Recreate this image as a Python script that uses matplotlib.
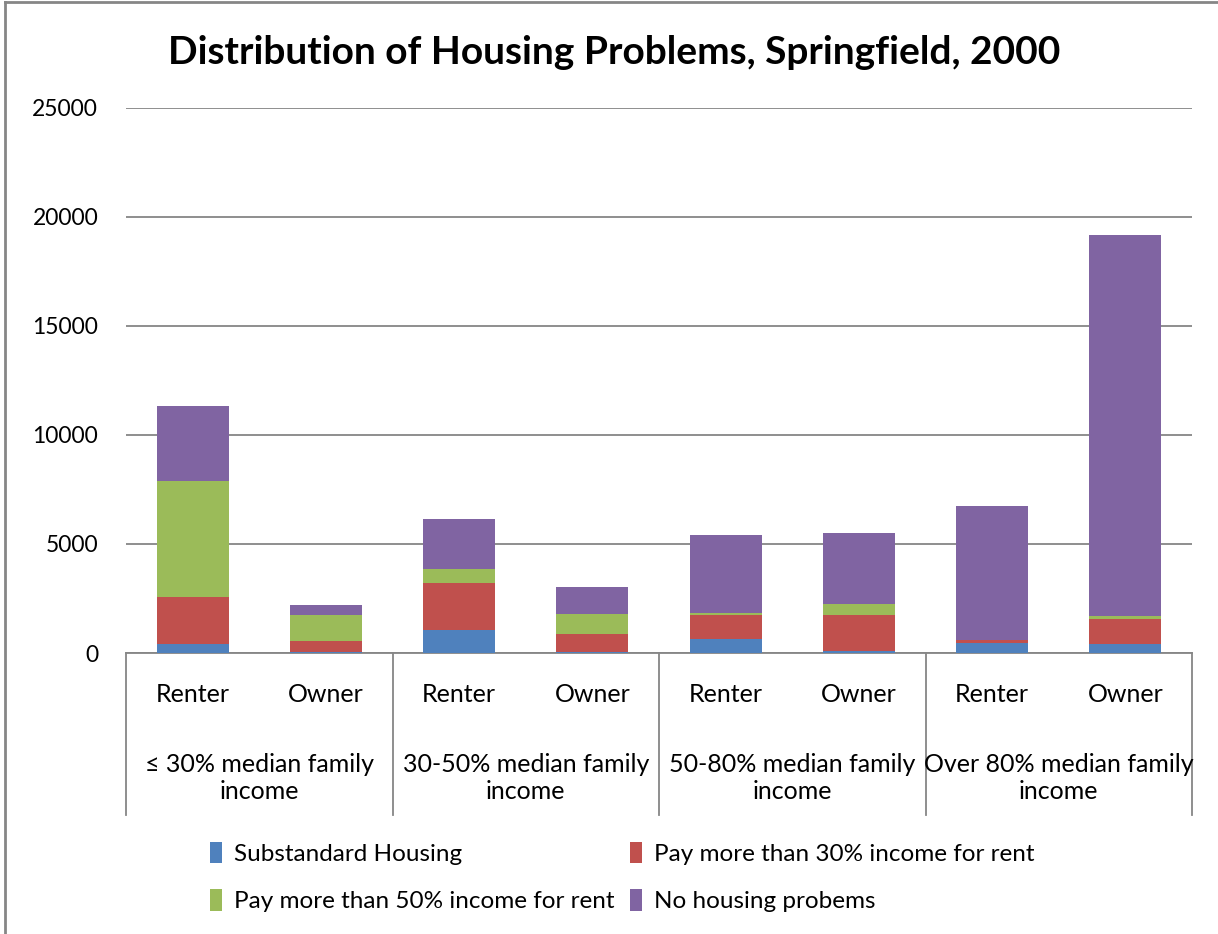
import numpy as np
import matplotlib.pyplot as plt
from matplotlib.lines import Line2D
from matplotlib.patches import Patch

plt.rcParams['font.family'] = ['Lato', 'DejaVu Sans']

# categories
tenure = ["Renter", "Owner"] * 4
groups = ["\u2264 30% median family\nincome", "30-50% median family\nincome",
          "50-80% median family\nincome", "Over 80% median family\nincome"]

# series values
substandard = [410, 30, 1055, 30, 660, 95, 460, 400]
pay_30 = [2145, 520, 2140, 830, 1085, 1650, 135, 1160]
pay_50 = [5320, 1180, 645, 915, 90, 505, 20, 140]
no_problems = [3455, 460, 2295, 1240, 3580, 3255, 6130, 17475]

series = [
    ("Substandard Housing", substandard, "#4f81bd"),
    ("Pay more than 30% income for rent", pay_30, "#c0504d"),
    ("Pay more than 50% income for rent", pay_50, "#9bbb59"),
    ("No housing probems", no_problems, "#8064a2"),
]

W, H = 1218, 934
fig = plt.figure(figsize=(W / 100, H / 100), dpi=100)
ax = fig.add_axes([126 / W, 1 - 653 / H, (1192 - 126) / W, (653 - 108) / H])

x = np.arange(len(tenure))
bottom = np.zeros(len(tenure))
handles = []
for name, vals, col in series:
    ax.bar(x, vals, width=0.54, bottom=bottom, color=col, zorder=3)
    bottom += np.array(vals)
    handles.append(Patch(facecolor=col, label=name))

ax.set_xlim(-0.5, 7.5)
ax.set_ylim(0, 25000)
ax.set_yticks(np.arange(0, 25001, 5000))
ax.yaxis.grid(True, color="#868686", linewidth=1.3, zorder=0)
ax.tick_params(axis="y", length=0, labelsize=16.5, pad=20)
ax.set_xticks([])
for s in ["top", "right", "left"]:
    ax.spines[s].set_visible(False)
ax.spines["bottom"].set_color("#868686")
ax.spines["bottom"].set_linewidth(1.3)

# category table below the axis
tr = ax.get_xaxis_transform()
for xv in [-0.5, 1.5, 3.5, 5.5, 7.5]:
    ax.add_line(Line2D([xv, xv], [0, -(815 - 653) / 545], transform=tr,
                       color="#868686", linewidth=1.3, clip_on=False))
for xi, lab in zip(x, tenure):
    ax.text(xi, -(695 - 653) / 545, lab, transform=tr, ha="center",
            va="center", fontsize=18)
for gi, lab in enumerate(groups):
    ax.text(2 * gi + 0.5, -(778 - 653) / 545, lab, transform=tr, ha="center",
            va="center", fontsize=18, linespacing=1.25)

fig.suptitle("Distribution of Housing Problems, Springfield, 2000",
             x=0.504, y=1 - 52 / H, va="center", fontsize=28, fontweight="bold")

order = [handles[0], handles[2], handles[1], handles[3]]
fig.legend(handles=order, ncol=2, loc="center left",
           bbox_to_anchor=(198 / W, 1 - 877 / H), frameon=False, fontsize=17.5,
           handlelength=0.5, handleheight=1.0, handletextpad=0.5,
           columnspacing=0.6, labelspacing=1.0, borderpad=0)

# outer chart border
fig.add_artist(Line2D([5 / W, 5 / W], [0, 1 - 2 / H], transform=fig.transFigure,
                      color="#868686", linewidth=2))
fig.add_artist(Line2D([5 / W, 1], [1 - 2 / H, 1 - 2 / H], transform=fig.transFigure,
                      color="#868686", linewidth=2))

fig.savefig("out.png", dpi=100)
